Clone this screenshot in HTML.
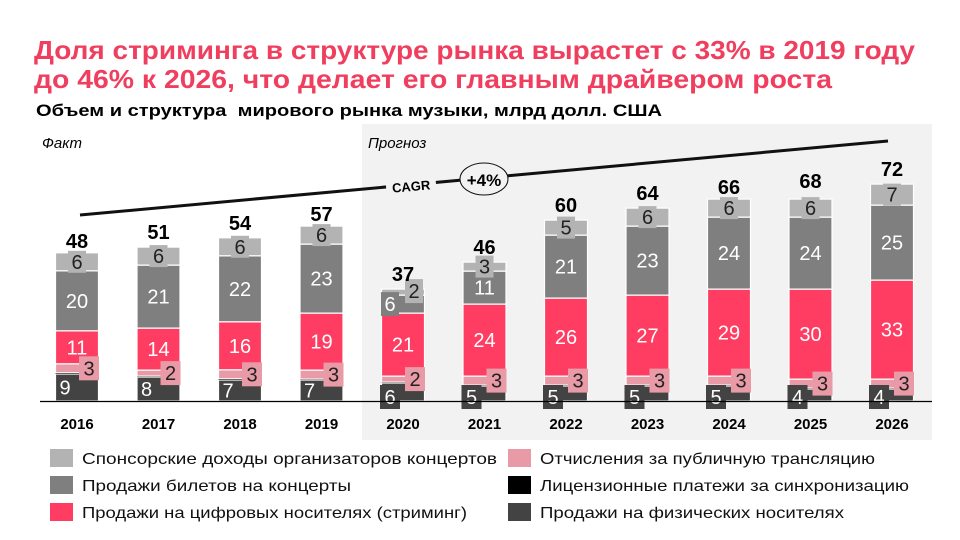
<!DOCTYPE html>
<html><head><meta charset="utf-8"><style>
body{margin:0;background:#fff;font-family:"Liberation Sans",sans-serif}
#c{position:relative;width:960px;height:540px;overflow:hidden}
</style></head><body><div id="c">
<svg id="s" width="960" height="540" style="position:absolute;left:0;top:0;font-family:'Liberation Sans',sans-serif">
<text x="34" y="59" font-size="26" font-weight="bold" fill="#f03e5f" textLength="881" lengthAdjust="spacingAndGlyphs">Доля стриминга в структуре рынка вырастет с 33% в 2019 году</text>
<text x="34" y="88" font-size="26" font-weight="bold" fill="#f03e5f" textLength="798" lengthAdjust="spacingAndGlyphs">до 46% к 2026, что делает его главным драйвером роста</text>
<text x="36" y="116" font-size="17" font-weight="bold" fill="#000" textLength="626" lengthAdjust="spacingAndGlyphs">Объем и структура&#160; мирового рынка музыки, млрд долл. США</text>
</svg>
</div>
<script>
const years=["2016","2017","2018","2019","2020","2021","2022","2023","2024","2025","2026"];
const totals=[48,51,54,57,37,46,60,64,66,68,72];
const physical=[9,8,7,7,6,5,5,5,5,4,4];
const sync=[0.4,0.3,0.4,0.3,0.3,0.3,0.3,0.3,0.3,0.3,0.3];
const publicPerf=[3,2,3,3,2,3,3,3,3,3,3];
const streaming=[11,14,16,19,21,24,26,27,29,30,33];
const tickets=[20,21,22,23,6,11,21,23,24,24,25];
const sponsor=[6,6,6,6,2,3,5,6,6,6,7];
const legendLabels=["Спонсорские доходы организаторов концертов","Продажи билетов на концерты","Продажи на цифровых носителях (стриминг)","Отчисления за публичную трансляцию","Лицензионные платежи за синхронизацию","Продажи на физических носителях"];
const legendW=[415,269,385,335,369,304];
const colors={physical:"#434343",sync:"#000",publicPerf:"#e89aa6",streaming:"#ff3d62",tickets:"#7f7f7f",sponsor:"#b3b3b3"};
const NS="http://www.w3.org/2000/svg",svg=document.getElementById('s');
const base=401,k=3.0,x0=77,step=81.5,bw=43;
const xc=i=>x0+i*step, y=v=>base-v*k;
function el(t,a,p){const e=document.createElementNS(NS,t);for(const q in a)e.setAttribute(q,a[q]);(p||svg).appendChild(e);return e}
function tx(x,yy,s,a,p){const e=el('text',Object.assign({x:x,y:yy,'text-anchor':'middle'},a),p);e.textContent=s;return e}
let bg=el('rect',{x:362,y:124,width:570,height:316,fill:"#f2f2f2"});


let f=tx(42,148,"Факт",{'text-anchor':'start','font-size':15,'font-style':'italic'});

let p=tx(368,148,"Прогноз",{'text-anchor':'start','font-size':15,'font-style':'italic'});

let cl=el('line',{x1:80,y1:215,x2:888,y2:141,stroke:"#111",'stroke-width':3});

el('rect',{x:386,y:176,width:50,height:18,fill:"#f2f2f2",transform:"rotate(-5 411 185)"});
let ct=tx(411,191,"CAGR",{'font-size':13,'font-weight':'bold',transform:"rotate(-5 411 185)"});

let ce=el('ellipse',{cx:484,cy:179,rx:24,ry:16,fill:"#f2f2f2",stroke:"#111",'stroke-width':1});

tx(484,186,"+4%",{'font-size':17,'font-weight':'bold'});
years.forEach((yr,i)=>{
  const g=el('g',{});
  
  
  const segs=[["physical",physical],["sync",sync],["publicPerf",publicPerf],["streaming",streaming],["tickets",tickets],["sponsor",sponsor]];
  let acc=0;const pos={};
  segs.forEach(([n,arr])=>{
    const v=arr[i],y1=y(acc+v),h=v*k;
    const r=el('rect',{x:xc(i)-bw/2,y:y1,width:bw,height:h,fill:colors[n],stroke:"#fff",'stroke-width':n=="sync"?0:1.2},g);
    
    
    pos[n]=[y1,h];acc+=v;
  });
  const c=xc(i),fs=20;
  if(i<4){tx(c-12,pos.physical[0]+pos.physical[1]/2+7,physical[i],{'font-size':fs,fill:"#fff"},g);}
  else{el('rect',{x:c-23,y:base-16,width:20,height:24,fill:colors.physical},g);tx(c-13,base+3,physical[i],{'font-size':fs,fill:"#fff"},g);}
  const py=pos.publicPerf[0]+pos.publicPerf[1]/2;
  el('rect',{x:c+2,y:py-12,width:20,height:24,fill:colors.publicPerf},g);
  tx(c+12,py+7,publicPerf[i],{'font-size':fs,fill:"#222"},g);
  tx(c,pos.streaming[0]+pos.streaming[1]/2+7,streaming[i],{'font-size':fs,fill:"#fff"},g);
  if(i==4){
    el('rect',{x:c-22,y:pos.tickets[0]-3,width:18,height:24,fill:colors.tickets},g);
    tx(c-13,pos.tickets[0]+16,tickets[i],{'font-size':fs,fill:"#fff"},g);
    el('rect',{x:c+2,y:pos.sponsor[0]-10,width:18,height:24,fill:colors.sponsor},g);
    tx(c+11,pos.sponsor[0]+9,sponsor[i],{'font-size':fs,fill:"#222"},g);
  }else{
    tx(c,pos.tickets[0]+pos.tickets[1]/2+7,tickets[i],{'font-size':fs,fill:"#fff"},g);
    const sy=pos.sponsor[0]+pos.sponsor[1]/2;
    el('rect',{x:c-9,y:sy-11,width:18,height:22,fill:colors.sponsor},g);
    tx(c,sy+7,sponsor[i],{'font-size':fs,fill:"#222"},g);
  }
  tx(c,y(totals[i])-9,totals[i],{'font-size':20,'font-weight':'bold'},g);
  const yl=tx(c,429,yr,{'font-size':15,'font-weight':'bold'});
  
  
});
let ax=el('line',{x1:40,y1:401.5,x2:932,y2:401.5,stroke:"#000",'stroke-width':1.2});

const lc=[colors.sponsor,colors.tickets,colors.streaming,colors.publicPerf,colors.sync,colors.physical];
legendLabels.forEach((l,j)=>{
  const col=j<3?0:1,row=j%3,lx=col?508:50,ly=449+row*27;
  const g=el('g',{});
  
  
  el('rect',{x:lx,y:ly,width:23,height:18,fill:lc[j]},g);
  tx(lx+32,ly+15,l,{'text-anchor':'start','font-size':16,fill:"#111",textLength:legendW[j],lengthAdjust:'spacingAndGlyphs'},g);
});
</script></body></html>
